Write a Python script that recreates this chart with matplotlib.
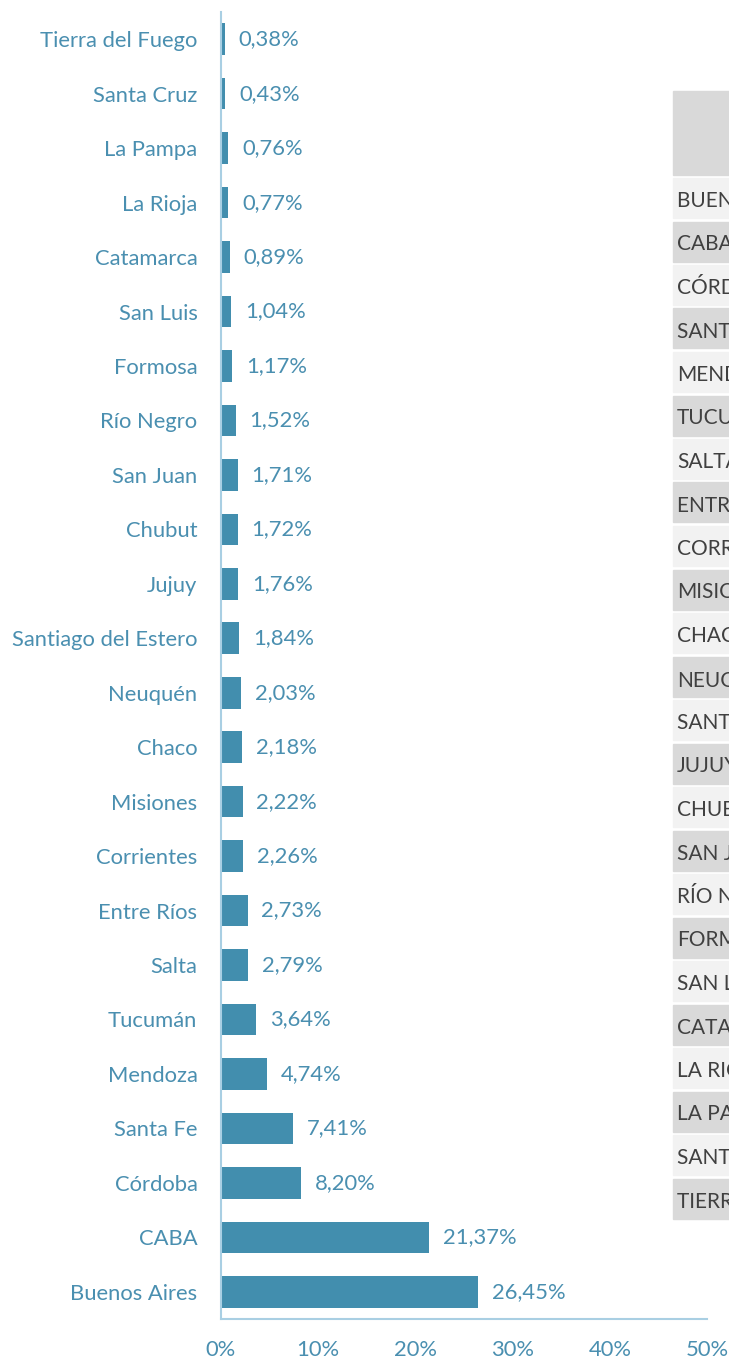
import matplotlib.pyplot as plt
from matplotlib.patches import Rectangle
from matplotlib.ticker import FuncFormatter

plt.rcParams['font.family'] = ['Lato', 'DejaVu Sans']

provincias = ["Buenos Aires", "CABA", "Córdoba", "Santa Fe", "Mendoza", "Tucumán",
              "Salta", "Entre Ríos", "Corrientes", "Misiones", "Chaco", "Neuquén",
              "Santiago del Estero", "Jujuy", "Chubut", "San Juan", "Río Negro",
              "Formosa", "San Luis", "Catamarca", "La Rioja", "La Pampa",
              "Santa Cruz", "Tierra del Fuego"]
porcentajes = [26.45, 21.37, 8.20, 7.41, 4.74, 3.64, 2.79, 2.73, 2.26, 2.22, 2.18,
               2.03, 1.84, 1.76, 1.72, 1.71, 1.52, 1.17, 1.04, 0.89, 0.77, 0.76,
               0.43, 0.38]
ticks = [0, 10, 20, 30, 40, 50]

bar_color = "#428eae"
text_color = "#4a8fb0"
line_color = "#a9cfe3"
fs = 15.8

fig = plt.figure(figsize=(7.29, 13.59), dpi=100)
ax = fig.add_axes([221/729, 1 - 1319/1359, (707 - 221)/729, (1319 - 12)/1359])

ax.barh(provincias, porcentajes, height=0.58, color=bar_color)
for i, v in enumerate(porcentajes):
    ax.annotate(f"{v:.2f}%".replace(".", ","), (v, i), xytext=(10, 0),
                textcoords="offset points", va="center", ha="left",
                fontsize=fs, color=text_color)

ax.set_xlim(0, 50)
ax.set_ylim(-0.5, len(provincias) - 0.5)
ax.set_xticks(ticks)
ax.xaxis.set_major_formatter(FuncFormatter(lambda x, p: f"{x:.0f}%"))
ax.tick_params(axis="x", length=0, pad=15, labelsize=fs, labelcolor=text_color)
ax.tick_params(axis="y", length=0, pad=17, labelsize=fs, labelcolor=text_color)
for s in ["top", "right"]:
    ax.spines[s].set_visible(False)
for s in ["left", "bottom"]:
    ax.spines[s].set_color(line_color)
    ax.spines[s].set_linewidth(1.5)

# tabla superpuesta (recortada en el borde derecho, como en el original)
W, H = 729, 1359
x0 = 673
fig.patches.append(Rectangle((x0/W, 1 - 175/H), 200/W, 84/H,
                             transform=fig.transFigure, color="#d9d9d9", zorder=5))
for i, name in enumerate(provincias):
    top = 178 + i * 43.5
    c = "#f2f2f2" if i % 2 == 0 else "#d9d9d9"
    fig.patches.append(Rectangle((x0/W, 1 - (top + 40)/H), 200/W, 40/H,
                                 transform=fig.transFigure, color=c, zorder=5))
    fig.text((x0 + 4)/W, 1 - (top + 23)/H, name.upper(), fontsize=15,
             color="#404040", va="center", ha="left", zorder=6)

fig.savefig("out.png", dpi=100)
